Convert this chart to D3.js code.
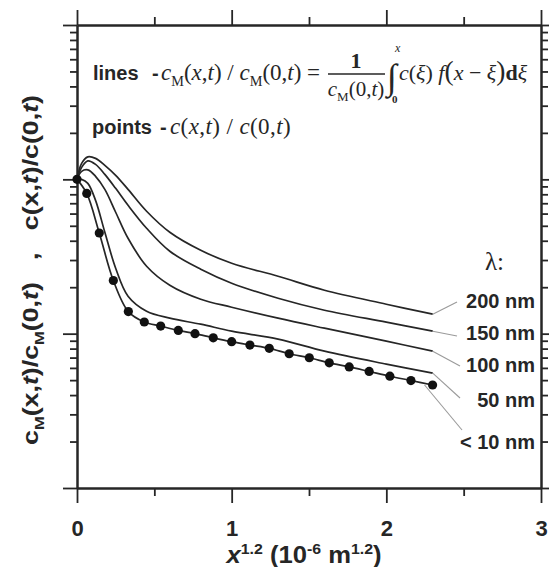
<!DOCTYPE html>
<html>
<head>
<meta charset="utf-8">
<script src="https://cdnjs.cloudflare.com/ajax/libs/d3/7.8.5/d3.min.js"></script>
<style>
  body { margin: 0; background: #fff; }
  svg { display: block; }
</style>
</head>
<body>
<svg width="549" height="567"></svg>
<script>
// x-axis in x^1.2 (10^-6 m^1.2), y = normalised concentration (log scale)
const xMajor = [0, 1, 2, 3];
const xMinor = [0.5, 1.5, 2.5];
const xTickLabels = ["0", "1", "2", "3"];
const yMajor = [0.01, 0.1, 1, 10];

// points: c(x,t)/c(0,t)
const pointX = [0, 0.063, 0.144, 0.235, 0.332, 0.435, 0.541, 0.655, 0.763, 0.881, 1.0,
                1.118, 1.243, 1.372, 1.502, 1.631, 1.760, 1.889, 2.023, 2.159, 2.299];
const pointY = [1, 0.81, 0.449, 0.221, 0.139, 0.119, 0.112, 0.105, 0.100, 0.094, 0.0887,
                0.0844, 0.0803, 0.0741, 0.0698, 0.0647, 0.0609, 0.0569, 0.0530, 0.0497, 0.0465];

// lines: cM(x,t)/cM(0,t) for each lambda
const lineX = [0, 0.03, 0.07, 0.12, 0.18, 0.25, 0.33, 0.45, 0.6, 0.8, 1.0, 1.3, 1.6, 2.0, 2.3];
const line200 = [1, 1.269, 1.398, 1.367, 1.232, 1.061, 0.861, 0.621, 0.454, 0.347, 0.286, 0.2356, 0.1912, 0.1552, 0.1337];
const line150 = [1, 1.196, 1.317, 1.251, 1.077, 0.874, 0.679, 0.482, 0.342, 0.2615, 0.2123, 0.1697, 0.1419, 0.1187, 0.1038];
const line100 = [1, 1.127, 1.152, 1.046, 0.861, 0.612, 0.415, 0.2734, 0.206, 0.1672, 0.1484, 0.126, 0.1085, 0.0894, 0.077];
const line50  = [1, 1.0, 0.942, 0.731, 0.454, 0.2655, 0.1749, 0.1398, 0.126, 0.1152, 0.1038, 0.0922, 0.077, 0.0635, 0.0555];

const lambdaLabels = ["200 nm", "150 nm", "100 nm", "50 nm", "< 10 nm"];

const svg = d3.select("svg");
const ink = "#262626";
const sans = "'Liberation Sans', Arial, sans-serif";
const serif = "'Liberation Serif', 'Times New Roman', serif";

const x = d3.scaleLinear().domain([0, 3]).range([77, 541]);
const y = d3.scaleLog().domain([0.01, 10]).range([488, 25]);

const yMinor = [];
[0.01, 0.1, 1].forEach(d => {
    for (let k = 2; k <= 9; k++) yMinor.push(+(d * k).toPrecision(3));
});

// axes: major and minor ticks, all pointing out
function drawAxis(axisFn, scale, values, size, transform) {
    const g = svg.append("g")
        .attr("transform", transform)
        .call(axisFn(scale).tickValues(values).tickSize(size).tickSizeOuter(0).tickFormat(""));
    g.select(".domain").attr("stroke", ink).attr("stroke-width", 2);
    g.selectAll(".tick line").attr("stroke", ink).attr("stroke-width", 1.8);
    return g;
}

const xBottom = drawAxis(d3.axisBottom, x, xMajor, 15, "translate(0,488)");
drawAxis(d3.axisBottom, x, xMinor, 8, "translate(0,488)");
drawAxis(d3.axisTop, x, xMajor, 15, "translate(0,25)");
drawAxis(d3.axisTop, x, xMinor, 8, "translate(0,25)");
drawAxis(d3.axisLeft, y, yMajor, 14, "translate(77,0)");
drawAxis(d3.axisLeft, y, yMinor, 7, "translate(77,0)");
drawAxis(d3.axisRight, y, yMajor, 14, "translate(541,0)");
drawAxis(d3.axisRight, y, yMinor, 7, "translate(541,0)");

xBottom.selectAll(".tick text")
    .data(xTickLabels)
    .text(d => d)
    .attr("y", 48)
    .attr("dy", 0)
    .attr("fill", ink)
    .attr("font-family", sans)
    .attr("font-weight", "bold")
    .attr("font-size", "22px");

// curves
const line = d3.line()
    .x(d => x(d[0]))
    .y(d => y(d[1]))
    .curve(d3.curveCatmullRom.alpha(0.5));

const series = [line200, line150, line100, line50].map(vals => lineX.map((v, i) => [v, vals[i]]));
const points = pointX.map((v, i) => [v, pointY[i]]);

svg.append("g").selectAll("path")
    .data(series.concat([points]))
    .enter()
    .append("path")
    .attr("d", line)
    .attr("fill", "none")
    .attr("stroke", ink)
    .attr("stroke-width", 1.7);

svg.append("g").selectAll("circle")
    .data(points)
    .enter()
    .append("circle")
    .attr("cx", d => x(d[0]))
    .attr("cy", d => y(d[1]))
    .attr("r", 4.6)
    .attr("fill", "#111");

// lambda labels with leader lines
const labelPos = [[457, 302, 308], [457, 336, 340], [460, 366, 372], [460, 398, 407], [462, 430, 449]];
const ends = series.concat([points]).map(s => s[s.length - 1]);

svg.append("g").selectAll("line")
    .data(ends)
    .enter()
    .append("line")
    .attr("x1", (d, i) => x(d[0]) - (i === 4 ? 8 : 0))
    .attr("y1", d => y(d[1]))
    .attr("x2", (d, i) => labelPos[i][0])
    .attr("y2", (d, i) => labelPos[i][1])
    .attr("stroke", "#9a9a9a")
    .attr("stroke-width", 1.1);

svg.append("g").selectAll("text")
    .data(lambdaLabels)
    .enter()
    .append("text")
    .attr("x", 535)
    .attr("y", (d, i) => labelPos[i][2])
    .attr("text-anchor", "end")
    .attr("font-family", sans)
    .attr("font-weight", "bold")
    .attr("font-size", "20px")
    .attr("fill", ink)
    .text(d => d);

svg.append("text")
    .attr("x", 485)
    .attr("y", 270)
    .attr("font-family", serif)
    .attr("font-size", "25px")
    .attr("fill", ink)
    .text("λ:");

// rich text helper: parts are [string, kinds] with kinds like "i", "b", "sub", "sup", "big"
function addParts(text, parts, base) {
    let shift = 0;
    parts.forEach(([s, k]) => {
        const kinds = k.split(" ");
        const t = text.append("tspan").text(s);
        const target = kinds.includes("sub") ? base * 0.25 : (kinds.includes("sup") ? -base * 0.38 : 0);
        if (target !== shift) t.attr("dy", target - shift);
        shift = target;
        if (kinds.includes("i")) t.attr("font-style", "italic");
        if (kinds.includes("b")) t.attr("font-weight", "bold");
        if (kinds.includes("sub") || kinds.includes("sup")) t.attr("font-size", (base * 0.62) + "px");
        if (kinds.includes("big")) t.attr("font-size", (base * 1.25) + "px");
    });
    return text;
}

function mathText(xp, yp, size, parts, anchor) {
    const t = svg.append("text")
        .attr("x", xp)
        .attr("y", yp)
        .attr("font-family", serif)
        .attr("font-size", size + "px")
        .attr("fill", ink)
        .attr("text-anchor", anchor || "start")
        .style("white-space", "pre");
    return addParts(t, parts, size);
}

function sansText(xp, yp, s) {
    svg.append("text")
        .attr("x", xp)
        .attr("y", yp)
        .attr("font-family", sans)
        .attr("font-weight", "bold")
        .attr("font-size", "20px")
        .attr("fill", ink)
        .text(s);
}

// legend formulae
sansText(93, 80, "lines");
sansText(152, 80, "-");
mathText(161, 80, 23, [["c", "i"], ["M", "sub"], ["(", "r"], ["x", "i"], [",", "r"], ["t", "i"], [")", "r"],
    [" / ", "r"], ["c", "i"], ["M", "sub"], ["(", "r"], ["0", "r"], [",", "r"], ["t", "i"], [")", "r"], [" =", "r"]]);

mathText(356, 68, 22, [["1", "b"]], "middle");
svg.append("line")
    .attr("x1", 328).attr("x2", 385)
    .attr("y1", 74).attr("y2", 74)
    .attr("stroke", ink).attr("stroke-width", 1.3);
mathText(356, 96, 21, [["c", "i"], ["M", "sub"], ["(", "r"], ["0", "r"], [",", "r"], ["t", "i"], [")", "r"]], "middle");

mathText(387, 89, 36, [["∫", "r"]]);
mathText(395, 52, 12, [["x", "i"]]);
mathText(392, 103, 11, [["0", "b"]]);
mathText(399, 80, 22, [["c", "i"], ["(", "r"], ["ξ", "i"], [")", "r"], [" ", "r"], ["f", "i"],
    ["(", "big"], ["x", "i"], [" − ", "r"], ["ξ", "i"], [")", "big"], ["d", "b"], ["ξ", "i"]]);

sansText(92, 134, "points");
sansText(160, 134, "-");
mathText(170, 134, 23, [["c", "i"], ["(", "r"], ["x", "i"], [",", "r"], ["t", "i"], [")", "r"],
    [" / ", "r"], ["c", "i"], ["(", "r"], ["0", "r"], [",", "r"], ["t", "i"], [")", "r"]])
    .attr("letter-spacing", "0.4px");

// axis titles
const xTitle = svg.append("text")
    .attr("x", 304)
    .attr("y", 563)
    .attr("text-anchor", "middle")
    .attr("font-family", sans)
    .attr("font-weight", "bold")
    .attr("font-size", "23px")
    .attr("fill", ink)
    .attr("textLength", 155)
    .attr("lengthAdjust", "spacingAndGlyphs")
    .style("white-space", "pre");
addParts(xTitle, [["x", "i"], ["1.2", "sup"], [" (10", "r"], ["-6", "sup"], [" m", "r"], ["1.2", "sup"], [")", "r"]], 23);

const yTitle = svg.append("text")
    .attr("transform", "translate(38,270) rotate(-90)")
    .attr("text-anchor", "middle")
    .attr("font-family", sans)
    .attr("font-weight", "bold")
    .attr("font-size", "22px")
    .attr("fill", ink)
    .attr("textLength", 350)
    .attr("lengthAdjust", "spacingAndGlyphs")
    .style("white-space", "pre");
addParts(yTitle, [["c", "r"], ["M", "sub"], ["(x,", "r"], ["t", "i"], [")/c", "r"], ["M", "sub"], ["(0,", "r"], ["t", "i"],
    [")   ,   c(x,", "r"], ["t", "i"], [")/c(0,", "r"], ["t", "i"], [")", "r"]], 22);
</script>
</body>
</html>
